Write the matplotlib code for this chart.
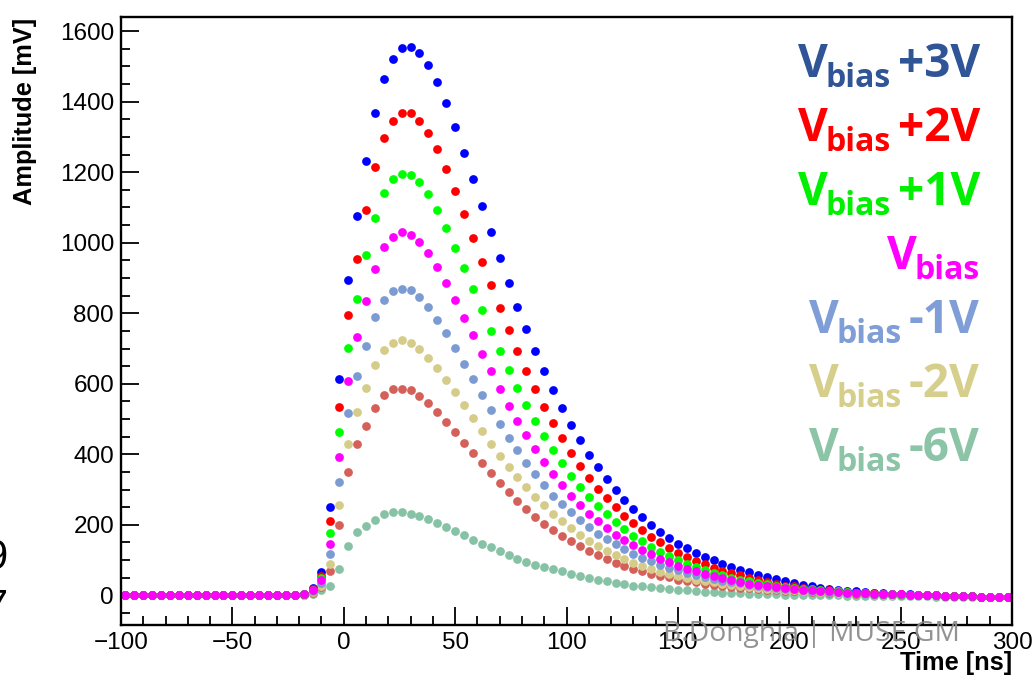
import matplotlib
matplotlib.use("Agg")
import matplotlib.pyplot as plt
from matplotlib.ticker import MultipleLocator

# ---------------------------------------------------------------- data
# sampling grid of the digitiser [ns]
time_ns = [-98, -94, -90, -86, -82, -78, -74, -70, -66, -62,
           -58, -54, -50, -46, -42, -38, -34, -30, -26, -22,
           -18, -14, -10, -6, -2, 2, 6, 10, 14, 18,
           22, 26, 30, 34, 38, 42, 46, 50, 54, 58,
           62, 66, 70, 74, 78, 82, 86, 90, 94, 98,
           102, 106, 110, 114, 118, 122, 126, 130, 134, 138,
           142, 146, 150, 154, 158, 162, 166, 170, 174, 178,
           182, 186, 190, 194, 198, 202, 206, 210, 214, 218,
           222, 226, 230, 234, 238, 242, 246, 250, 254, 258,
           262, 266, 270, 274, 278, 282, 286, 290, 294, 298]

# flat pre-trigger baseline (t = -98 ... -22 ns) [mV]
baseline_mV = [0, 0, 0, 0, 0, 0, 0, 0, 0, 0,
               0, 0, 0, 0, 0, 0, 0, 0, 0, 0]

# pulse part (t = -18 ... 298 ns) [mV] for each over-voltage setting
pulse_p3V = [4, 20, 66, 251, 614, 895, 1075, 1232, 1369, 1463,
             1521, 1551, 1556, 1539, 1505, 1456, 1395, 1328, 1255, 1181,
             1105, 1031, 957, 886, 818, 755, 693, 635, 581, 531,
             482, 440, 399, 363, 330, 298, 271, 245, 221, 200,
             180, 162, 147, 133, 120, 109, 99, 89, 80, 73,
             65, 59, 52, 46, 41, 35, 30, 26, 22, 18,
             15, 13, 11, 9, 7, 6, 5, 4, 3, 2,
             1, 0, -1, -2, -3, -3, -4, -4, -5, -5]

pulse_p2V = [4, 18, 54, 210, 535, 794, 955, 1094, 1216, 1298,
             1344, 1367, 1367, 1345, 1310, 1265, 1208, 1146, 1081, 1014,
             945, 879, 816, 753, 694, 635, 584, 535, 490, 445,
             404, 367, 334, 303, 275, 250, 225, 204, 185, 166,
             150, 134, 121, 109, 98, 88, 79, 70, 63, 57,
             49, 43, 38, 33, 28, 26, 22, 18, 16, 14,
             12, 10, 8, 7, 6, 5, 4, 3, 2, 1,
             1, 0, -1, -2, -3, -3, -4, -4, -5, -5]

pulse_p1V = [3, 16, 48, 177, 463, 701, 841, 965, 1070, 1141,
             1180, 1196, 1193, 1171, 1138, 1094, 1042, 986, 928, 869,
             810, 750, 694, 639, 587, 540, 495, 452, 412, 374,
             339, 308, 279, 254, 230, 207, 188, 169, 153, 137,
             124, 112, 101, 90, 80, 72, 64, 57, 50, 45,
             40, 36, 32, 28, 25, 22, 19, 17, 15, 13,
             11, 9, 8, 6, 5, 4, 3, 2, 2, 1,
             0, 0, -1, -2, -3, -3, -4, -4, -5, -5]

pulse_0V = [5, 16, 43, 145, 391, 608, 734, 835, 926, 987,
            1017, 1030, 1023, 1002, 971, 931, 886, 838, 787, 737,
            684, 635, 585, 537, 495, 455, 414, 377, 343, 313,
            283, 256, 232, 210, 190, 172, 156, 142, 128, 116,
            104, 94, 84, 76, 68, 62, 54, 48, 43, 38,
            33, 29, 26, 24, 21, 18, 16, 14, 12, 11,
            9, 8, 7, 6, 5, 4, 3, 3, 2, 1,
            0, 0, -1, -2, -3, -3, -4, -4, -5, -5]

pulse_m1V = [3, 12, 36, 117, 322, 516, 622, 708, 788, 838,
             862, 870, 865, 845, 818, 782, 744, 701, 656, 613,
             568, 526, 485, 447, 412, 374, 344, 312, 282, 259,
             235, 213, 194, 175, 159, 145, 131, 118, 107, 97,
             86, 79, 71, 64, 58, 52, 47, 42, 38, 34,
             30, 27, 24, 21, 19, 17, 15, 13, 11, 10,
             9, 7, 6, 5, 4, 3, 3, 2, 1, 1,
             0, 0, -1, -2, -3, -3, -4, -4, -5, -5]

pulse_m2V = [2, 10, 28, 90, 256, 428, 521, 589, 654, 696,
             717, 723, 717, 698, 674, 644, 611, 578, 540, 502,
             466, 429, 396, 365, 336, 308, 279, 256, 232, 211,
             191, 172, 154, 139, 126, 114, 102, 92, 82, 74,
             67, 61, 55, 50, 45, 41, 37, 33, 30, 27,
             24, 22, 19, 17, 15, 14, 12, 11, 10, 9,
             8, 7, 6, 5, 4, 3, 2, 2, 1, 1,
             0, 0, -1, -2, -3, -3, -4, -4, -5, -5]

pulse_m4V = [2, 8, 25, 68, 199, 349, 429, 480, 532, 568,
             585, 585, 581, 566, 546, 521, 493, 464, 433, 403,
             374, 346, 319, 294, 268, 244, 223, 203, 185, 169,
             153, 139, 125, 114, 103, 93, 83, 76, 68, 62,
             56, 51, 45, 41, 37, 33, 30, 27, 24, 22,
             20, 18, 16, 14, 13, 12, 11, 10, 9, 8,
             7, 6, 5, 4, 4, 3, 2, 2, 1, 1,
             0, 0, -1, -2, -3, -3, -4, -4, -5, -5]

pulse_m6V = [1, 3, 14, 27, 76, 140, 181, 197, 213, 232,
             236, 236, 232, 226, 216, 206, 194, 183, 171, 158,
             147, 136, 125, 115, 104, 96, 87, 80, 74, 68,
             62, 56, 50, 45, 40, 36, 32, 28, 26, 23,
             20, 18, 16, 14, 12, 10, 9, 8, 7, 6,
             5, 4, 3, 3, 2, 2, 1, 1, 0, 0,
             0, -1, -1, -1, -2, -2, -2, -3, -3, -3,
             -3, -4, -4, -4, -4, -5, -5, -5, -5, -5]

# drawing order: lowest over-voltage first, nominal V_bias drawn last (on top)
series = [
    (pulse_m6V, "#86c2a5"),
    (pulse_m4V, "#d5605a"),
    (pulse_m2V, "#d4cc88"),
    (pulse_m1V, "#7c9bd3"),
    (pulse_p3V, "#0000ff"),
    (pulse_p2V, "#ff0000"),
    (pulse_p1V, "#00ff00"),
    (pulse_0V, "#ff00ff"),
]

# legend entries: main text, subscript, suffix, colour
legend_rows = [
    ("V", "bias", "+3V", "#2f5597"),
    ("V", "bias", "+2V", "#ff0000"),
    ("V", "bias", "+1V", "#00f000"),
    ("V", "bias", "",    "#ff00ff"),
    ("V", "bias", "-1V", "#7f9dd6"),
    ("V", "bias", "-2V", "#d6cf8c"),
    ("V", "bias", "-6V", "#8cc4a7"),
]

# ---------------------------------------------------------------- figure
W, H = 1033, 679
fig = plt.figure(figsize=(W / 100, H / 100), dpi=100)
ax = fig.add_axes([121 / W, 1 - 625 / H, (1012 - 121) / W, (625 - 17) / H])

for pulse, col in series:
    ax.plot(time_ns, baseline_mV + pulse, linestyle="none", marker="o",
            ms=6.3, mec="none", mfc=col, clip_on=True)

ax.set_xlim(-100, 300)
ax.set_ylim(-84, 1640)

tick_family, tick_size = "Liberation Sans", 17.5
ax.xaxis.set_major_locator(MultipleLocator(50))
ax.xaxis.set_minor_locator(MultipleLocator(10))
ax.yaxis.set_major_locator(MultipleLocator(200))
ax.yaxis.set_minor_locator(MultipleLocator(50))
ax.tick_params(axis="both", which="both", direction="in", width=1.3,
               top=False, right=False, color="black")
ax.tick_params(axis="x", which="major", length=13, pad=5)
ax.tick_params(axis="x", which="minor", length=6.5)
ax.tick_params(axis="y", which="major", length=13, pad=5)
ax.tick_params(axis="y", which="minor", length=6.5)
for lab in ax.get_xticklabels() + ax.get_yticklabels():
    lab.set_fontfamily(tick_family)
    lab.set_fontsize(tick_size)
for sp in ax.spines.values():
    sp.set_linewidth(1.7)

# axis titles, ROOT style: bold, flush with the axis ends
fig.text(1012 / W, 1 - 663 / H, "Time [ns]", ha="right", va="center",
         family="Liberation Sans", weight="bold", size=18.3)
fig.text(25 / W, 1 - 18 / H, "Amplitude [mV]", ha="center", va="top",
         rotation=90, family="Liberation Sans", weight="bold", size=18.3)

# fragments of slide text at the left border
fig.text(8 / W, 1 - 558 / H, "9", ha="right", va="center", size=30,
         family="Liberation Sans")
fig.text(8 / W, 1 - 608 / H, "7", ha="right", va="center", size=30,
         family="Liberation Sans")

# watermark
fig.text(663 / W, 1 - 634 / H, "B.Donghia | MUSE GM", ha="left", va="center",
         size=20.3, family="Open Sans", color="#8a8a8a", alpha=0.92)

# coloured over-voltage labels, built piece by piece (V + subscript + suffix)
fig.canvas.draw()
renderer = fig.canvas.get_renderer()
right_px = 980
main_size, sub_size = 33, 23
for i, (main, sub, suffix, col) in enumerate(legend_rows):
    base = 77 + 64 * i
    x = right_px
    if suffix:
        t = fig.text(x / W, 1 - base / H, suffix, ha="right", va="baseline",
                     size=main_size, weight="bold", family="Open Sans", color=col)
        x = t.get_window_extent(renderer).x0 - 7
    t = fig.text(x / W, 1 - (base + 10) / H, sub, ha="right", va="baseline",
                 size=sub_size, weight="bold", family="Open Sans", color=col)
    x = t.get_window_extent(renderer).x0 + 2
    fig.text(x / W, 1 - base / H, main, ha="right", va="baseline",
             size=main_size, weight="bold", family="Open Sans", color=col)

fig.savefig("out.png", dpi=100)
